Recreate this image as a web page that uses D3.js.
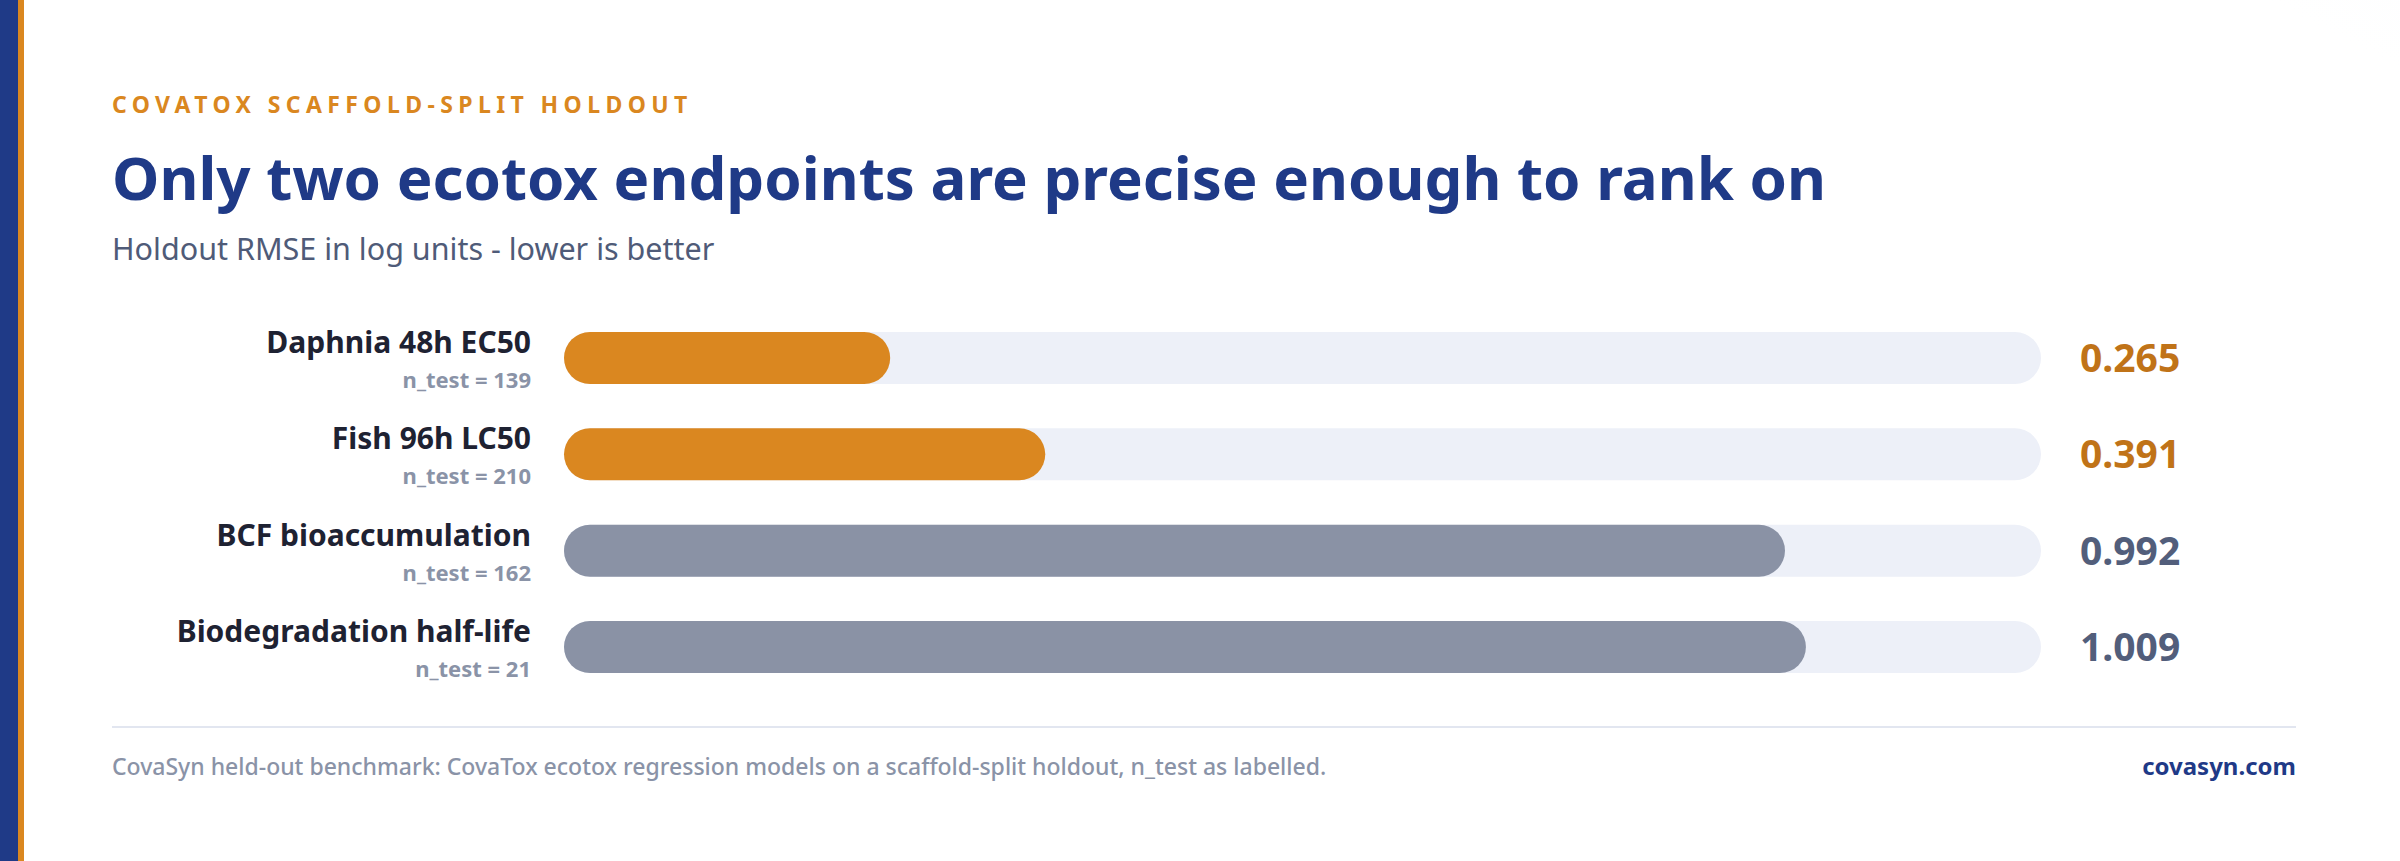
<!DOCTYPE html>
<html>
<head>
<meta charset="utf-8">
<script src="https://cdn.jsdelivr.net/npm/d3@7"></script>
<style>
  html, body { margin: 0; padding: 0; background: #ffffff; }
  svg { display: block; font-family: "Noto Sans", "Open Sans", sans-serif; }
</style>
</head>
<body>
<div id="chart"></div>
<script>
// endpoints, top to bottom
const endpoints = ["Daphnia 48h EC50", "Fish 96h LC50", "BCF bioaccumulation", "Biodegradation half-life"];
const rmse = [0.265, 0.391, 0.992, 1.009];
const nTest = [139, 210, 162, 21];
const precise = [true, true, false, false];

const width = 2400, height = 861;

const svg = d3.select("#chart")
    .append("svg")
    .attr("width", width)
    .attr("height", height);

const defs = svg.append("defs");
const glow = defs.append("radialGradient")
    .attr("id", "glow")
    .attr("cx", 1).attr("cy", 0).attr("r", 0.75);
glow.append("stop").attr("offset", "0%").attr("stop-color", "#eaeffa");
glow.append("stop").attr("offset", "45%").attr("stop-color", "#f6f8fd");
glow.append("stop").attr("offset", "100%").attr("stop-color", "#ffffff");

svg.append("rect").attr("width", width).attr("height", height).attr("fill", "#ffffff");
svg.append("ellipse")
    .attr("cx", 2400).attr("cy", 0)
    .attr("rx", 1100).attr("ry", 560)
    .attr("fill", "url(#glow)");

// left accent strip
svg.append("rect").attr("x", 0).attr("y", 0).attr("width", 18).attr("height", height).attr("fill", "#1f3a87");
svg.append("rect").attr("x", 18).attr("y", 0).attr("width", 6).attr("height", height).attr("fill", "#da8720");

// header
svg.append("text")
    .attr("x", 112).attr("y", 113)
    .attr("fill", "#da8720")
    .attr("font-size", 23)
    .attr("font-weight", 700)
    .attr("letter-spacing", 5.4)
    .text("COVATOX SCAFFOLD-SPLIT HOLDOUT");

svg.append("text")
    .attr("x", 112).attr("y", 200)
    .attr("fill", "#1f3a87")
    .attr("font-size", 60)
    .attr("font-weight", 700)
    .text("Only two ecotox endpoints are precise enough to rank on");

svg.append("text")
    .attr("x", 112).attr("y", 260)
    .attr("fill", "#4f5b78")
    .attr("font-size", 30.5)
    .text("Holdout RMSE in log units - lower is better");

// scales
const x = d3.scaleLinear().domain([0, 1.2]).range([564, 2041]);
const y = d3.scalePoint().domain(endpoints).range([358, 647]);
const barH = 52;

const rows = svg.append("g").selectAll("g")
    .data(endpoints.map((e, i) => ({ name: e, v: rmse[i], n: nTest[i], hi: precise[i] })))
    .enter().append("g")
    .attr("transform", d => `translate(0,${y(d.name)})`);

rows.append("rect")
    .attr("x", x(0)).attr("y", -barH / 2)
    .attr("width", x(1.2) - x(0)).attr("height", barH)
    .attr("rx", barH / 2)
    .attr("fill", "#edf0f8");

rows.append("rect")
    .attr("x", x(0)).attr("y", -barH / 2)
    .attr("width", d => x(d.v) - x(0)).attr("height", barH)
    .attr("rx", barH / 2)
    .attr("fill", d => d.hi ? "#da8720" : "#8a92a5");

rows.append("text")
    .attr("x", 531).attr("y", -5)
    .attr("text-anchor", "end")
    .attr("fill", "#1e2232")
    .attr("font-size", 30)
    .attr("font-weight", 700)
    .text(d => d.name);

rows.append("text")
    .attr("x", 531).attr("y", 30)
    .attr("text-anchor", "end")
    .attr("fill", "#8a93a7")
    .attr("font-size", 22)
    .attr("font-weight", 700)
    .text(d => "n_test = " + d.n);

rows.append("text")
    .attr("x", 2080).attr("y", 14)
    .attr("fill", d => d.hi ? "#c07318" : "#525e7b")
    .attr("font-size", 39)
    .attr("font-weight", 700)
    .text(d => d3.format(".3f")(d.v));

// footer
svg.append("line")
    .attr("x1", 112).attr("x2", 2296)
    .attr("y1", 727).attr("y2", 727)
    .attr("stroke", "#e2e6f0").attr("stroke-width", 2);

svg.append("text")
    .attr("x", 112).attr("y", 775)
    .attr("fill", "#8a93a7")
    .attr("font-size", 23)
    .attr("font-weight", 500)
    .text("CovaSyn held-out benchmark: CovaTox ecotox regression models on a scaffold-split holdout, n_test as labelled.");

svg.append("text")
    .attr("x", 2296).attr("y", 775)
    .attr("text-anchor", "end")
    .attr("fill", "#1f3a87")
    .attr("font-size", 24)
    .attr("font-weight", 700)
    .text("covasyn.com");
</script>
</body>
</html>
